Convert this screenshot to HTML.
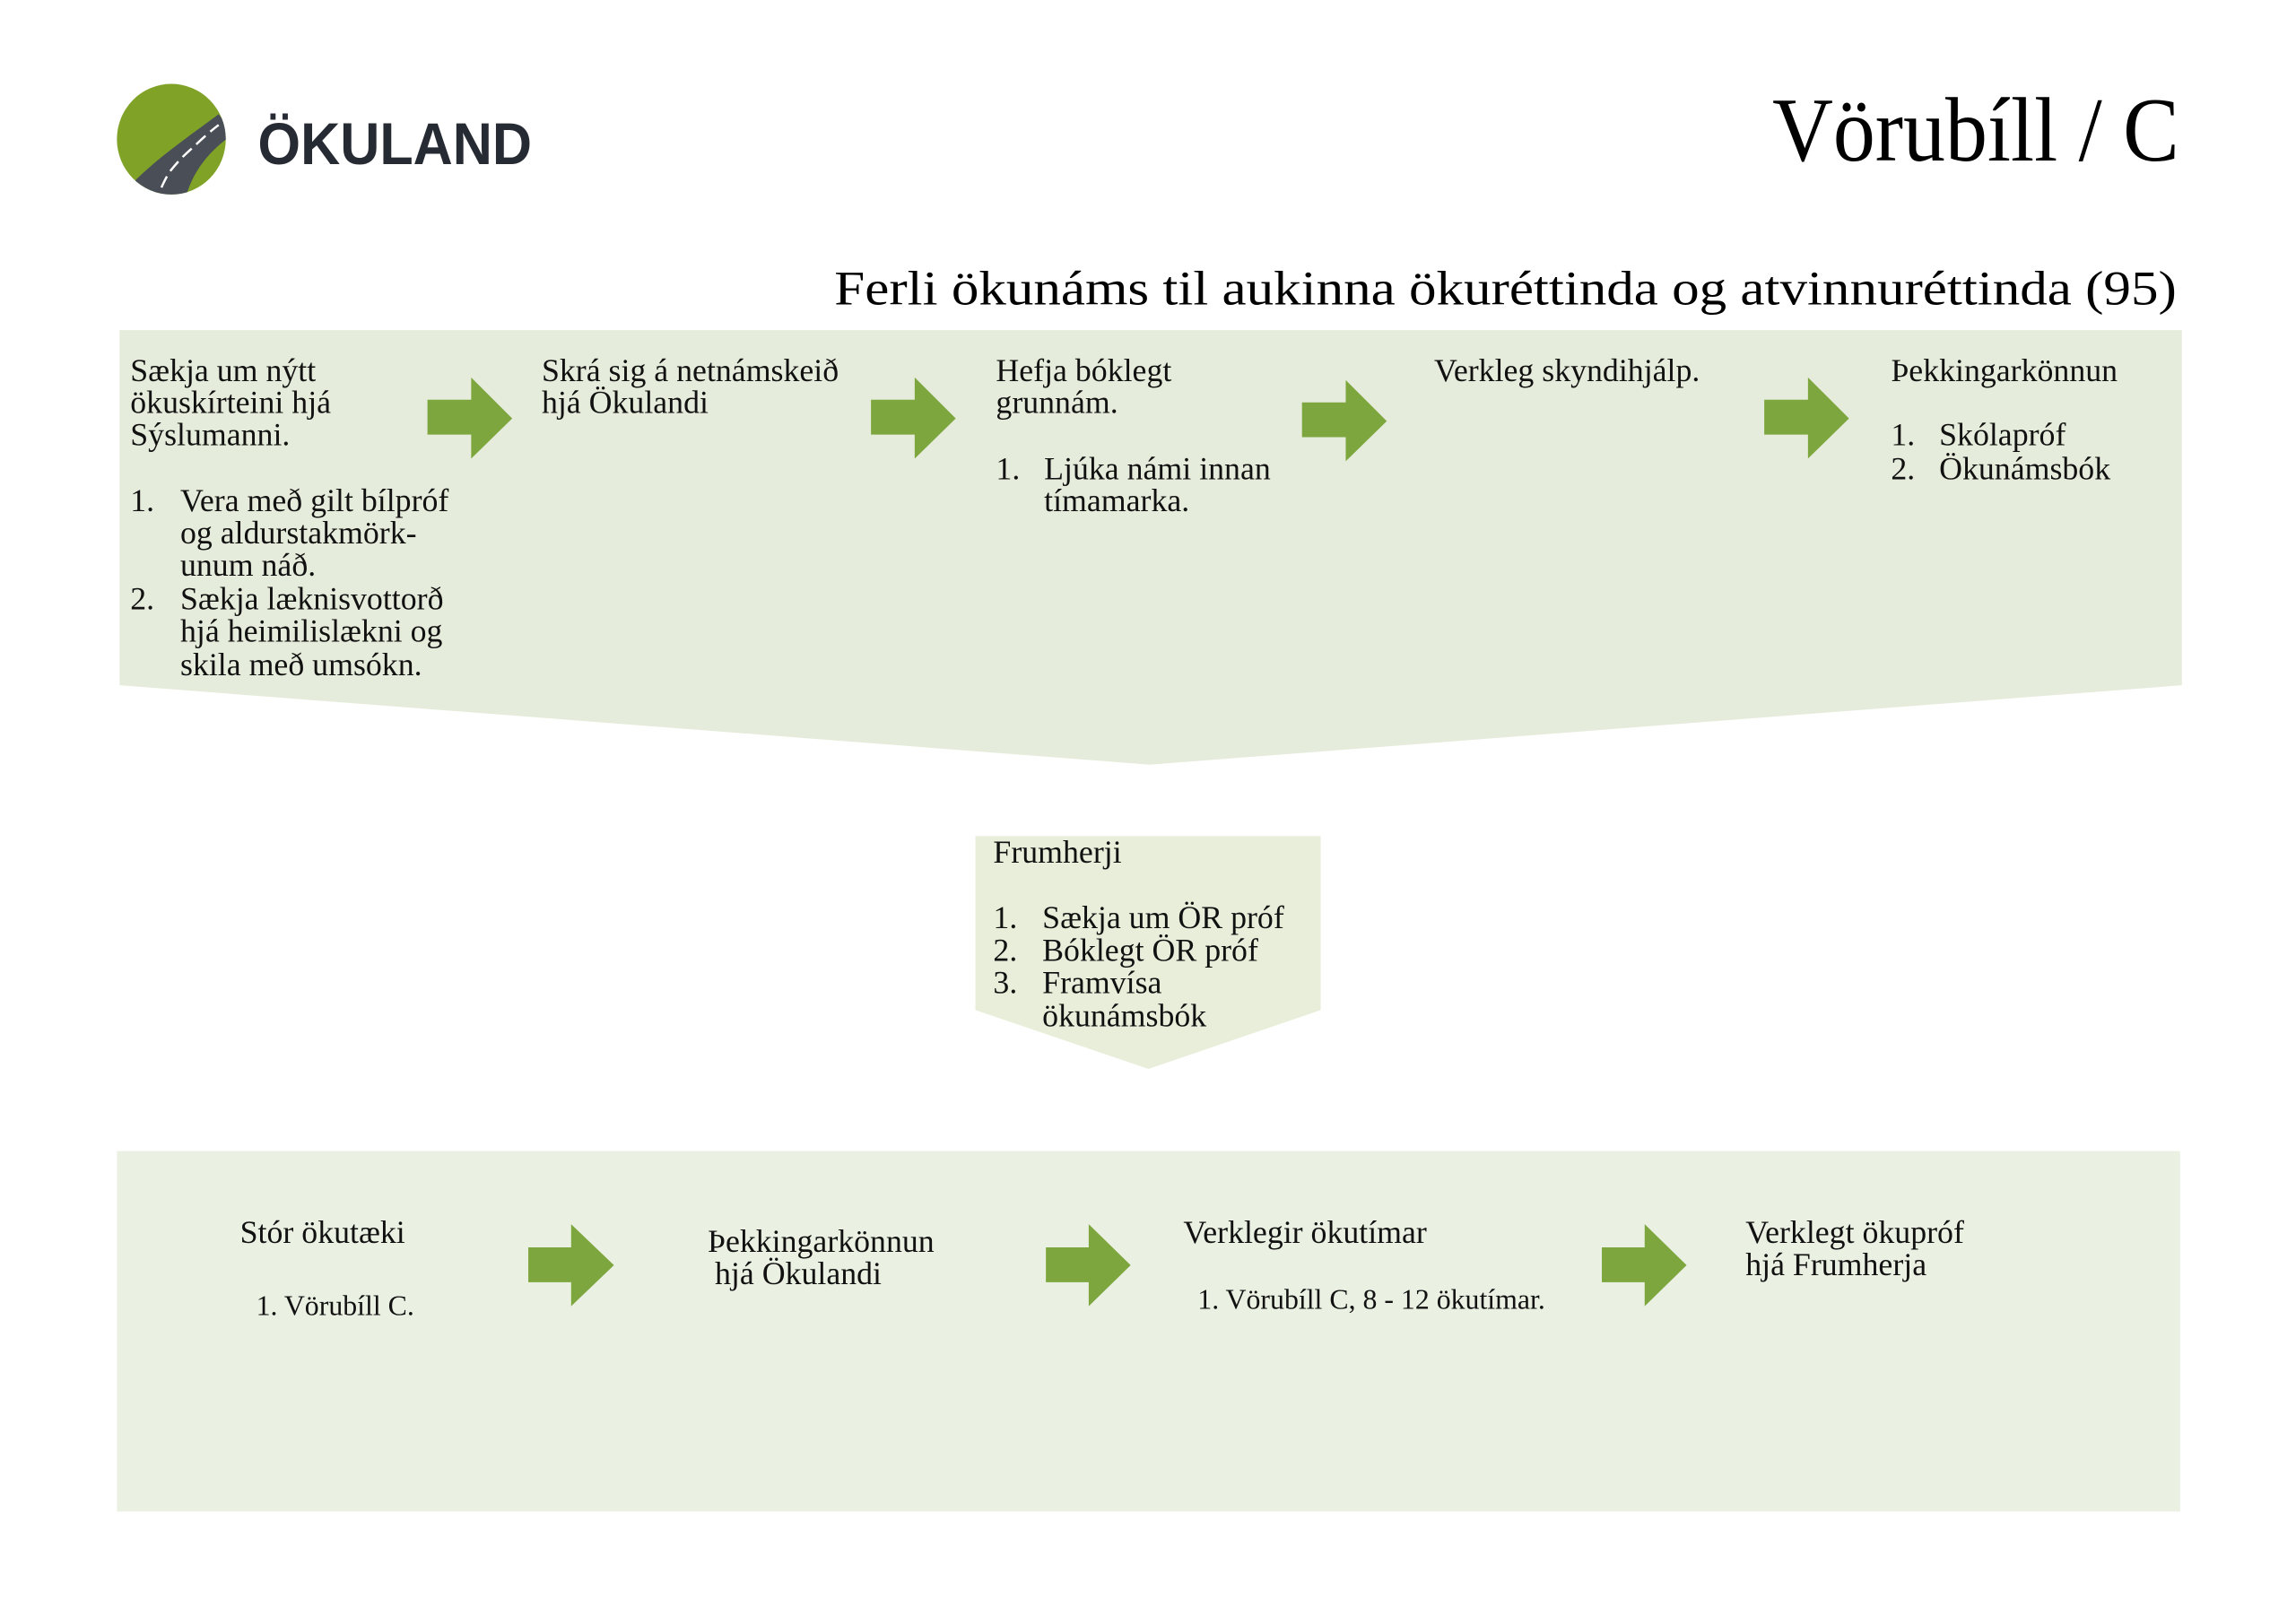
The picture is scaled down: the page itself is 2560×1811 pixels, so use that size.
<!DOCTYPE html>
<html><head><meta charset="utf-8"><style>
html,body{margin:0;padding:0;background:#fff;}
svg{display:block;}
.t{font-family:"Liberation Serif",serif;font-size:36px;fill:#111;}
.s{font-family:"Liberation Serif",serif;font-size:32px;fill:#111;}
</style></head><body>
<svg width="2560" height="1811" viewBox="0 0 2560 1811" xmlns="http://www.w3.org/2000/svg">
<rect width="2560" height="1811" fill="#fff"/>
<defs><clipPath id="c"><ellipse cx="192" cy="156" rx="61" ry="62"/></clipPath></defs>
<g transform="scale(0.995)">
<!-- logo -->
<ellipse cx="192" cy="156" rx="61" ry="62" fill="#80a327"/>
<g clip-path="url(#c)">
<path d="M120,240 C150,195 195,165 245,128 L262,150 C232,170 215,195 208,222 C204,240 210,255 222,270 L150,280 Z" fill="#4a4f57"/>
<path d="M174,230 C178,215 183,205 189,194 C196,185 204,176 212,169 C222,160 232,150 245,140" fill="none" stroke="#fff" stroke-width="2.5" stroke-dasharray="14,7"/>
<path d="M172,262 C170,250 171,240 174,230" fill="none" stroke="#fff" stroke-width="2.5" stroke-dasharray="14,7"/>
</g>
<text x="289" y="184" font-family="Liberation Sans, sans-serif" font-weight="bold" font-size="66" fill="#262a33" textLength="307" lengthAdjust="spacingAndGlyphs">ÖKULAND</text>
<text x="1986" y="180" font-family="Liberation Serif, serif" font-size="102" fill="#000" textLength="456" lengthAdjust="spacingAndGlyphs">Vörubíll / C</text>
<text x="935" y="341" font-family="Liberation Serif, serif" font-size="54" fill="#000" textLength="1504" lengthAdjust="spacingAndGlyphs">Ferli ökunáms til aukinna ökuréttinda og atvinnuréttinda (95)</text>
<!-- top band -->
<polygon points="134,370 2445,370 2445,768 1288,857 134,768" fill="#e6ecdb"/>
<g fill="#7ea63e">
<polygon points="479,448 528,448 528,423 574,469 528,514 528,487 479,487"/>
<polygon points="976,448 1025,448 1025,423 1071,469 1025,514 1025,487 976,487"/>
<polygon points="1459,451 1508,451 1508,426 1554,472 1508,517 1508,490 1459,490"/>
<polygon points="1977,448 2026,448 2026,423 2072,469 2026,514 2026,487 1977,487"/>
</g>
<text class="t" x="146" y="427">Sækja um nýtt</text>
<text class="t" x="146" y="463">ökuskírteini hjá</text>
<text class="t" x="146" y="499">Sýslumanni.</text>
<text class="t" x="146" y="573">1.</text>
<text class="t" x="202" y="573">Vera með gilt bílpróf</text>
<text class="t" x="202" y="609">og aldurstakmörk-</text>
<text class="t" x="202" y="645">unum náð.</text>
<text class="t" x="146" y="683">2.</text>
<text class="t" x="202" y="683">Sækja læknisvottorð</text>
<text class="t" x="202" y="719">hjá heimilislækni og</text>
<text class="t" x="202" y="757">skila með umsókn.</text>
<text class="t" x="607" y="427">Skrá sig á netnámskeið</text>
<text class="t" x="607" y="463">hjá Ökulandi</text>
<text class="t" x="1116" y="427">Hefja bóklegt</text>
<text class="t" x="1116" y="463">grunnám.</text>
<text class="t" x="1116" y="537">1.</text>
<text class="t" x="1170" y="537">Ljúka námi innan</text>
<text class="t" x="1170" y="573">tímamarka.</text>
<text class="t" x="1607" y="427">Verkleg skyndihjálp.</text>
<text class="t" x="2119" y="427">Þekkingarkönnun</text>
<text class="t" x="2119" y="499">1.</text>
<text class="t" x="2173" y="499">Skólapróf</text>
<text class="t" x="2119" y="537">2.</text>
<text class="t" x="2173" y="537">Ökunámsbók</text>
<!-- Frumherji -->
<polygon points="1093,937 1480,937 1480,1132 1287,1198 1093,1132" fill="#e8eeda"/>
<text class="t" x="1113" y="967">Frumherji</text>
<text class="t" x="1113" y="1040">1.</text><text class="t" x="1168" y="1040">Sækja um ÖR próf</text>
<text class="t" x="1113" y="1077">2.</text><text class="t" x="1168" y="1077">Bóklegt ÖR próf</text>
<text class="t" x="1113" y="1113">3.</text><text class="t" x="1168" y="1113">Framvísa</text>
<text class="t" x="1168" y="1150">ökunámsbók</text>
<!-- bottom -->
<rect x="131" y="1290" width="2312" height="404" fill="#eaf0e2"/>
<g fill="#7ea63e">
<polygon points="592,1398 640,1398 640,1372 688,1418 640,1464 640,1437 592,1437"/>
<polygon points="1172,1398 1220,1398 1220,1372 1267,1418 1220,1464 1220,1437 1172,1437"/>
<polygon points="1795,1398 1843,1398 1843,1372 1890,1418 1843,1464 1843,1437 1795,1437"/>
</g>
<text class="t" x="269" y="1393">Stór ökutæki</text>
<text class="s" x="287" y="1474">1. Vörubíll C.</text>
<text class="t" x="793" y="1403">Þekkingarkönnun</text>
<text class="t" x="801" y="1439">hjá Ökulandi</text>
<text class="t" x="1326" y="1393">Verklegir ökutímar</text>
<text class="s" x="1342" y="1467">1. Vörubíll C, 8 - 12 ökutímar.</text>
<text class="t" x="1956" y="1393">Verklegt ökupróf</text>
<text class="t" x="1956" y="1429">hjá Frumherja</text>
</g>
</svg>
</body></html>
